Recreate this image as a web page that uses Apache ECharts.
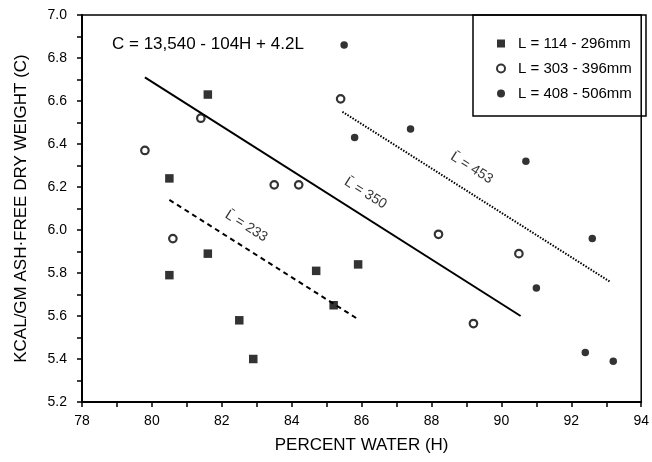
<!DOCTYPE html>
<html>
<head>
<meta charset="utf-8">
<script src="https://cdn.jsdelivr.net/npm/echarts@6/dist/echarts.min.js"></script>
<style>
html,body{margin:0;padding:0;background:#fff;}
#chart{width:652px;height:462px;}
</style>
</head>
<body>
<div id="chart"></div>
<script>
// Series names
var seriesNames = ['L = 114 - 296mm', 'L = 303 - 396mm', 'L = 408 - 506mm'];
// [percent water H, kcal/gm C]
var smallFish = [[81.6,6.63],[80.5,6.24],[80.5,5.79],[81.6,5.89],[82.5,5.58],[82.9,5.40],[84.7,5.81],[85.2,5.65],[85.9,5.84]];
var midFish = [[79.8,6.37],[81.4,6.52],[80.6,5.96],[83.5,6.21],[84.2,6.21],[85.4,6.61],[88.2,5.98],[89.2,5.565],[90.5,5.89]];
var largeFish = [[85.5,6.86],[85.8,6.43],[87.4,6.47],[90.7,6.32],[92.6,5.96],[91.0,5.73],[92.4,5.43],[93.2,5.39]];
// Regression lines for mean lengths
var line233 = [[80.5,6.14],[85.85,5.59]];
var line350 = [[79.8,6.71],[90.55,5.60]];
var line453 = [[85.45,6.55],[93.1,5.76]];
// Line labels
var lineLabelText = ['L\u0304 = 233', 'L\u0304 = 350', 'L\u0304 = 453'];
var lineLabelPos = [[82.70,6.018],[86.11,6.171],[89.15,6.288]];
var equationText = 'C = 13,540 - 104H + 4.2L';
var xTitle = 'PERCENT WATER (H)';
var yTitle = 'KCAL/GM ASH\u00B7FREE DRY WEIGHT (C)';

var FONT = 'Liberation Sans';
var chart = echarts.init(document.getElementById('chart'));

var labelSeries = lineLabelPos.map(function(p, i){
  return {
    type: 'scatter', silent: true, symbolSize: 0,
    data: [p],
    label: {show: true, position: 'inside', rotate: -32, formatter: lineLabelText[i],
      color: '#000', fontSize: 14, fontFamily: FONT},
    z: 5
  };
});

var option = {
  animation: false,
  backgroundColor: '#fff',
  grid: {left: 82, right: 6, top: 15, bottom: 60, show: true, borderColor: '#000', borderWidth: 1.5},
  xAxis: {
    type: 'value', min: 78, max: 94, interval: 2,
    name: xTitle, nameLocation: 'middle', nameGap: 35,
    nameTextStyle: {color: '#000', fontSize: 17, fontFamily: FONT},
    axisLine: {show: true, lineStyle: {color: '#000', width: 2}},
    axisTick: {show: true, inside: false, length: 5, lineStyle: {color: '#000', width: 1.5}},
    minorTick: {show: true, splitNumber: 2, length: 5, lineStyle: {color: '#000', width: 1.5}},
    axisLabel: {color: '#000', fontSize: 14, fontFamily: FONT, margin: 12},
    splitLine: {show: false}
  },
  yAxis: {
    type: 'value', min: 5.2, max: 7.0, interval: 0.2,
    name: yTitle, nameLocation: 'middle', nameGap: 52,
    nameTextStyle: {color: '#000', fontSize: 17, fontFamily: FONT},
    axisLine: {show: true, lineStyle: {color: '#000', width: 2}},
    axisTick: {show: true, inside: false, length: 5, lineStyle: {color: '#000', width: 1.5}},
    minorTick: {show: true, splitNumber: 2, length: 5, lineStyle: {color: '#000', width: 1.5}},
    axisLabel: {color: '#000', fontSize: 14, fontFamily: FONT, margin: 15,
      formatter: function(v){ return v.toFixed(1); }},
    splitLine: {show: false}
  },
  legend: {
    orient: 'vertical', left: 491, top: 31,
    itemWidth: 8, itemHeight: 8, itemGap: 10,
    data: [
      {name: seriesNames[0], icon: 'rect'},
      {name: seriesNames[1], icon: 'circle'},
      {name: seriesNames[2], icon: 'circle'}
    ],
    textStyle: {color: '#000', fontSize: 15, fontFamily: FONT, padding: [0,0,0,8]}
  },
  graphic: [
    {type: 'rect', shape: {x: 473, y: 15, width: 173, height: 101},
     style: {fill: 'none', stroke: '#000', lineWidth: 1.5}, z: 10},
    {type: 'text', left: 112, top: 36,
     style: {text: equationText, fill: '#000', font: '17px "Liberation Sans"'}, z: 10}
  ],
  series: [
    {name: seriesNames[0], type: 'scatter', symbol: 'rect', symbolSize: 8.5, data: smallFish,
     itemStyle: {color: '#000'}, z: 4},
    {name: seriesNames[1], type: 'scatter', symbol: 'circle', symbolSize: 7.5, data: midFish,
     itemStyle: {color: '#fff', borderColor: '#000', borderWidth: 2.2}, z: 4},
    {name: seriesNames[2], type: 'scatter', symbol: 'circle', symbolSize: 7.5, data: largeFish,
     itemStyle: {color: '#000'}, z: 4},
    {type: 'line', data: line233, symbol: 'none', silent: true,
     lineStyle: {color: '#000', width: 2, type: [5,4]}, z: 3},
    {type: 'line', data: line350, symbol: 'none', silent: true,
     lineStyle: {color: '#000', width: 2, type: 'solid'}, z: 3},
    {type: 'line', data: line453, symbol: 'none', silent: true,
     lineStyle: {color: '#000', width: 2, type: [1.5,1.5]}, z: 3}
  ].concat(labelSeries)
};
chart.setOption(option);
</script>
</body>
</html>
